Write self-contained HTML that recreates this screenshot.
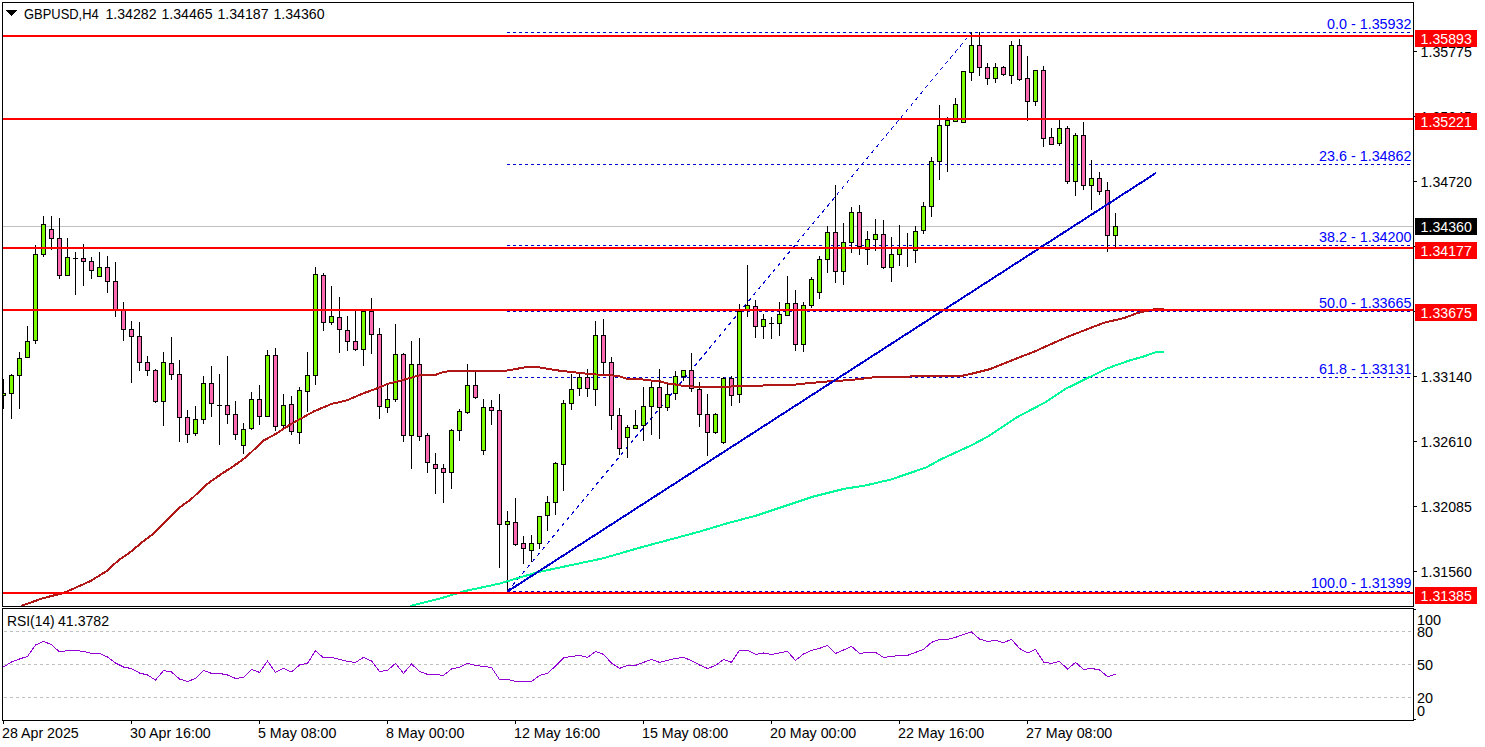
<!DOCTYPE html>
<html><head><meta charset="utf-8"><style>
html,body{margin:0;padding:0;background:#fff;width:1485px;height:747px;overflow:hidden}
svg{display:block}
text{font-family:"Liberation Sans", sans-serif}
</style></head><body>
<svg width="1485" height="747" viewBox="0 0 1485 747" shape-rendering="crispEdges">
<rect x="0" y="0" width="1485" height="747" fill="#fff"/>
<defs><clipPath id="mc"><rect x="3" y="3" width="1410" height="603"/></clipPath><clipPath id="rc"><rect x="3" y="609" width="1410" height="111"/></clipPath></defs>
<g clip-path="url(#mc)">
<rect x="3" y="226" width="1410" height="1" fill="#C0C0C0"/>
<line x1="507" y1="32.5" x2="1413" y2="32.5" stroke="#0000CD" stroke-width="1" stroke-dasharray="3 3" shape-rendering="crispEdges"/>
<line x1="507" y1="164.5" x2="1413" y2="164.5" stroke="#0000CD" stroke-width="1" stroke-dasharray="3 3" shape-rendering="crispEdges"/>
<line x1="507" y1="245.5" x2="1413" y2="245.5" stroke="#0000CD" stroke-width="1" stroke-dasharray="3 3" shape-rendering="crispEdges"/>
<line x1="507" y1="311.5" x2="1413" y2="311.5" stroke="#0000CD" stroke-width="1" stroke-dasharray="3 3" shape-rendering="crispEdges"/>
<line x1="507" y1="377.5" x2="1413" y2="377.5" stroke="#0000CD" stroke-width="1" stroke-dasharray="3 3" shape-rendering="crispEdges"/>
<line x1="507" y1="591.5" x2="1413" y2="591.5" stroke="#0000CD" stroke-width="1" stroke-dasharray="3 3" shape-rendering="crispEdges"/>
<line x1="507.5" y1="591.5" x2="971.5" y2="32.5" stroke="#0000CD" stroke-width="1" stroke-dasharray="3.9 3.8"/>
<rect x="3" y="379" width="1" height="30" fill="#000"/>
<rect x="1" y="393" width="5" height="3" fill="#000"/>
<rect x="2" y="394" width="3" height="1" fill="#7CFC00"/>
<rect x="11" y="374" width="1" height="45" fill="#000"/>
<rect x="9" y="375" width="5" height="19" fill="#000"/>
<rect x="10" y="376" width="3" height="17" fill="#7CFC00"/>
<rect x="19" y="352" width="1" height="57" fill="#000"/>
<rect x="17" y="358" width="5" height="18" fill="#000"/>
<rect x="18" y="359" width="3" height="16" fill="#7CFC00"/>
<rect x="27" y="326" width="1" height="32" fill="#000"/>
<rect x="25" y="341" width="5" height="17" fill="#000"/>
<rect x="26" y="342" width="3" height="15" fill="#7CFC00"/>
<rect x="35" y="245" width="1" height="99" fill="#000"/>
<rect x="33" y="254" width="5" height="87" fill="#000"/>
<rect x="34" y="255" width="3" height="85" fill="#7CFC00"/>
<rect x="43" y="216" width="1" height="41" fill="#000"/>
<rect x="41" y="224" width="5" height="31" fill="#000"/>
<rect x="42" y="225" width="3" height="29" fill="#7CFC00"/>
<rect x="51" y="216" width="1" height="34" fill="#000"/>
<rect x="49" y="229" width="5" height="10" fill="#000"/>
<rect x="50" y="230" width="3" height="8" fill="#FF69B4"/>
<rect x="59" y="218" width="1" height="61" fill="#000"/>
<rect x="57" y="238" width="5" height="38" fill="#000"/>
<rect x="58" y="239" width="3" height="36" fill="#FF69B4"/>
<rect x="67" y="238" width="1" height="38" fill="#000"/>
<rect x="65" y="257" width="5" height="19" fill="#000"/>
<rect x="66" y="258" width="3" height="17" fill="#7CFC00"/>
<rect x="75" y="252" width="1" height="43" fill="#000"/>
<rect x="73" y="258" width="5" height="1" fill="#000"/>
<rect x="83" y="244" width="1" height="42" fill="#000"/>
<rect x="81" y="258" width="5" height="4" fill="#000"/>
<rect x="82" y="259" width="3" height="2" fill="#FF69B4"/>
<rect x="91" y="257" width="1" height="22" fill="#000"/>
<rect x="89" y="261" width="5" height="10" fill="#000"/>
<rect x="90" y="262" width="3" height="8" fill="#FF69B4"/>
<rect x="99" y="252" width="1" height="25" fill="#000"/>
<rect x="97" y="267" width="5" height="10" fill="#000"/>
<rect x="98" y="268" width="3" height="8" fill="#7CFC00"/>
<rect x="107" y="256" width="1" height="37" fill="#000"/>
<rect x="105" y="267" width="5" height="15" fill="#000"/>
<rect x="106" y="268" width="3" height="13" fill="#FF69B4"/>
<rect x="115" y="262" width="1" height="55" fill="#000"/>
<rect x="113" y="281" width="5" height="29" fill="#000"/>
<rect x="114" y="282" width="3" height="27" fill="#FF69B4"/>
<rect x="123" y="302" width="1" height="39" fill="#000"/>
<rect x="121" y="309" width="5" height="21" fill="#000"/>
<rect x="122" y="310" width="3" height="19" fill="#FF69B4"/>
<rect x="131" y="321" width="1" height="62" fill="#000"/>
<rect x="129" y="329" width="5" height="8" fill="#000"/>
<rect x="130" y="330" width="3" height="6" fill="#FF69B4"/>
<rect x="139" y="322" width="1" height="49" fill="#000"/>
<rect x="137" y="336" width="5" height="27" fill="#000"/>
<rect x="138" y="337" width="3" height="25" fill="#FF69B4"/>
<rect x="147" y="356" width="1" height="20" fill="#000"/>
<rect x="145" y="362" width="5" height="9" fill="#000"/>
<rect x="146" y="363" width="3" height="7" fill="#FF69B4"/>
<rect x="155" y="369" width="1" height="34" fill="#000"/>
<rect x="153" y="370" width="5" height="32" fill="#000"/>
<rect x="154" y="371" width="3" height="30" fill="#FF69B4"/>
<rect x="163" y="352" width="1" height="74" fill="#000"/>
<rect x="161" y="362" width="5" height="40" fill="#000"/>
<rect x="162" y="363" width="3" height="38" fill="#7CFC00"/>
<rect x="171" y="337" width="1" height="43" fill="#000"/>
<rect x="169" y="363" width="5" height="12" fill="#000"/>
<rect x="170" y="364" width="3" height="10" fill="#FF69B4"/>
<rect x="179" y="360" width="1" height="82" fill="#000"/>
<rect x="177" y="374" width="5" height="44" fill="#000"/>
<rect x="178" y="375" width="3" height="42" fill="#FF69B4"/>
<rect x="187" y="410" width="1" height="33" fill="#000"/>
<rect x="185" y="417" width="5" height="18" fill="#000"/>
<rect x="186" y="418" width="3" height="16" fill="#FF69B4"/>
<rect x="195" y="406" width="1" height="30" fill="#000"/>
<rect x="193" y="419" width="5" height="15" fill="#000"/>
<rect x="194" y="420" width="3" height="13" fill="#7CFC00"/>
<rect x="203" y="376" width="1" height="48" fill="#000"/>
<rect x="201" y="383" width="5" height="37" fill="#000"/>
<rect x="202" y="384" width="3" height="35" fill="#7CFC00"/>
<rect x="211" y="366" width="1" height="51" fill="#000"/>
<rect x="209" y="383" width="5" height="21" fill="#000"/>
<rect x="210" y="384" width="3" height="19" fill="#FF69B4"/>
<rect x="219" y="374" width="1" height="71" fill="#000"/>
<rect x="217" y="405" width="5" height="1" fill="#000"/>
<rect x="227" y="356" width="1" height="68" fill="#000"/>
<rect x="225" y="405" width="5" height="10" fill="#000"/>
<rect x="226" y="406" width="3" height="8" fill="#FF69B4"/>
<rect x="235" y="401" width="1" height="39" fill="#000"/>
<rect x="233" y="414" width="5" height="21" fill="#000"/>
<rect x="234" y="415" width="3" height="19" fill="#FF69B4"/>
<rect x="243" y="423" width="1" height="31" fill="#000"/>
<rect x="241" y="429" width="5" height="17" fill="#000"/>
<rect x="242" y="430" width="3" height="15" fill="#7CFC00"/>
<rect x="251" y="392" width="1" height="38" fill="#000"/>
<rect x="249" y="399" width="5" height="30" fill="#000"/>
<rect x="250" y="400" width="3" height="28" fill="#7CFC00"/>
<rect x="259" y="385" width="1" height="40" fill="#000"/>
<rect x="257" y="399" width="5" height="18" fill="#000"/>
<rect x="258" y="400" width="3" height="16" fill="#FF69B4"/>
<rect x="267" y="350" width="1" height="67" fill="#000"/>
<rect x="265" y="355" width="5" height="62" fill="#000"/>
<rect x="266" y="356" width="3" height="60" fill="#7CFC00"/>
<rect x="275" y="348" width="1" height="83" fill="#000"/>
<rect x="273" y="355" width="5" height="72" fill="#000"/>
<rect x="274" y="356" width="3" height="70" fill="#FF69B4"/>
<rect x="283" y="394" width="1" height="34" fill="#000"/>
<rect x="281" y="405" width="5" height="21" fill="#000"/>
<rect x="282" y="406" width="3" height="19" fill="#7CFC00"/>
<rect x="291" y="396" width="1" height="39" fill="#000"/>
<rect x="289" y="404" width="5" height="28" fill="#000"/>
<rect x="290" y="405" width="3" height="26" fill="#FF69B4"/>
<rect x="299" y="387" width="1" height="57" fill="#000"/>
<rect x="297" y="390" width="5" height="43" fill="#000"/>
<rect x="298" y="391" width="3" height="41" fill="#7CFC00"/>
<rect x="307" y="352" width="1" height="60" fill="#000"/>
<rect x="305" y="375" width="5" height="17" fill="#000"/>
<rect x="306" y="376" width="3" height="15" fill="#7CFC00"/>
<rect x="315" y="267" width="1" height="118" fill="#000"/>
<rect x="313" y="274" width="5" height="102" fill="#000"/>
<rect x="314" y="275" width="3" height="100" fill="#7CFC00"/>
<rect x="323" y="273" width="1" height="58" fill="#000"/>
<rect x="321" y="275" width="5" height="48" fill="#000"/>
<rect x="322" y="276" width="3" height="46" fill="#FF69B4"/>
<rect x="331" y="286" width="1" height="39" fill="#000"/>
<rect x="329" y="316" width="5" height="7" fill="#000"/>
<rect x="330" y="317" width="3" height="5" fill="#7CFC00"/>
<rect x="339" y="297" width="1" height="56" fill="#000"/>
<rect x="337" y="317" width="5" height="13" fill="#000"/>
<rect x="338" y="318" width="3" height="11" fill="#FF69B4"/>
<rect x="347" y="316" width="1" height="35" fill="#000"/>
<rect x="345" y="330" width="5" height="12" fill="#000"/>
<rect x="346" y="331" width="3" height="10" fill="#FF69B4"/>
<rect x="355" y="311" width="1" height="40" fill="#000"/>
<rect x="353" y="341" width="5" height="9" fill="#000"/>
<rect x="354" y="342" width="3" height="7" fill="#FF69B4"/>
<rect x="363" y="311" width="1" height="55" fill="#000"/>
<rect x="361" y="311" width="5" height="39" fill="#000"/>
<rect x="362" y="312" width="3" height="37" fill="#7CFC00"/>
<rect x="371" y="298" width="1" height="56" fill="#000"/>
<rect x="369" y="311" width="5" height="24" fill="#000"/>
<rect x="370" y="312" width="3" height="22" fill="#FF69B4"/>
<rect x="379" y="328" width="1" height="91" fill="#000"/>
<rect x="377" y="334" width="5" height="73" fill="#000"/>
<rect x="378" y="335" width="3" height="71" fill="#FF69B4"/>
<rect x="387" y="385" width="1" height="28" fill="#000"/>
<rect x="385" y="399" width="5" height="9" fill="#000"/>
<rect x="386" y="400" width="3" height="7" fill="#7CFC00"/>
<rect x="395" y="324" width="1" height="78" fill="#000"/>
<rect x="393" y="354" width="5" height="46" fill="#000"/>
<rect x="394" y="355" width="3" height="44" fill="#7CFC00"/>
<rect x="403" y="353" width="1" height="89" fill="#000"/>
<rect x="401" y="354" width="5" height="82" fill="#000"/>
<rect x="402" y="355" width="3" height="80" fill="#FF69B4"/>
<rect x="411" y="341" width="1" height="128" fill="#000"/>
<rect x="409" y="364" width="5" height="72" fill="#000"/>
<rect x="410" y="365" width="3" height="70" fill="#7CFC00"/>
<rect x="419" y="338" width="1" height="103" fill="#000"/>
<rect x="417" y="364" width="5" height="73" fill="#000"/>
<rect x="418" y="365" width="3" height="71" fill="#FF69B4"/>
<rect x="427" y="433" width="1" height="40" fill="#000"/>
<rect x="425" y="435" width="5" height="28" fill="#000"/>
<rect x="426" y="436" width="3" height="26" fill="#FF69B4"/>
<rect x="435" y="453" width="1" height="41" fill="#000"/>
<rect x="433" y="464" width="5" height="5" fill="#000"/>
<rect x="434" y="465" width="3" height="3" fill="#FF69B4"/>
<rect x="443" y="464" width="1" height="39" fill="#000"/>
<rect x="441" y="468" width="5" height="5" fill="#000"/>
<rect x="442" y="469" width="3" height="3" fill="#FF69B4"/>
<rect x="451" y="429" width="1" height="60" fill="#000"/>
<rect x="449" y="430" width="5" height="43" fill="#000"/>
<rect x="450" y="431" width="3" height="41" fill="#7CFC00"/>
<rect x="459" y="409" width="1" height="32" fill="#000"/>
<rect x="457" y="411" width="5" height="20" fill="#000"/>
<rect x="458" y="412" width="3" height="18" fill="#7CFC00"/>
<rect x="467" y="364" width="1" height="50" fill="#000"/>
<rect x="465" y="385" width="5" height="28" fill="#000"/>
<rect x="466" y="386" width="3" height="26" fill="#7CFC00"/>
<rect x="475" y="371" width="1" height="28" fill="#000"/>
<rect x="473" y="385" width="5" height="13" fill="#000"/>
<rect x="474" y="386" width="3" height="11" fill="#FF69B4"/>
<rect x="483" y="399" width="1" height="56" fill="#000"/>
<rect x="481" y="407" width="5" height="44" fill="#000"/>
<rect x="482" y="408" width="3" height="42" fill="#7CFC00"/>
<rect x="491" y="400" width="1" height="25" fill="#000"/>
<rect x="489" y="407" width="5" height="4" fill="#000"/>
<rect x="490" y="408" width="3" height="2" fill="#FF69B4"/>
<rect x="499" y="394" width="1" height="174" fill="#000"/>
<rect x="497" y="410" width="5" height="115" fill="#000"/>
<rect x="498" y="411" width="3" height="113" fill="#FF69B4"/>
<rect x="507" y="511" width="1" height="81" fill="#000"/>
<rect x="505" y="521" width="5" height="4" fill="#000"/>
<rect x="506" y="522" width="3" height="2" fill="#7CFC00"/>
<rect x="515" y="498" width="1" height="48" fill="#000"/>
<rect x="513" y="522" width="5" height="23" fill="#000"/>
<rect x="514" y="523" width="3" height="21" fill="#FF69B4"/>
<rect x="523" y="536" width="1" height="28" fill="#000"/>
<rect x="521" y="543" width="5" height="6" fill="#000"/>
<rect x="522" y="544" width="3" height="4" fill="#FF69B4"/>
<rect x="531" y="535" width="1" height="27" fill="#000"/>
<rect x="529" y="543" width="5" height="8" fill="#000"/>
<rect x="530" y="544" width="3" height="6" fill="#7CFC00"/>
<rect x="539" y="516" width="1" height="33" fill="#000"/>
<rect x="537" y="516" width="5" height="28" fill="#000"/>
<rect x="538" y="517" width="3" height="26" fill="#7CFC00"/>
<rect x="547" y="496" width="1" height="35" fill="#000"/>
<rect x="545" y="502" width="5" height="14" fill="#000"/>
<rect x="546" y="503" width="3" height="12" fill="#7CFC00"/>
<rect x="555" y="462" width="1" height="53" fill="#000"/>
<rect x="553" y="463" width="5" height="40" fill="#000"/>
<rect x="554" y="464" width="3" height="38" fill="#7CFC00"/>
<rect x="563" y="400" width="1" height="91" fill="#000"/>
<rect x="561" y="403" width="5" height="62" fill="#000"/>
<rect x="562" y="404" width="3" height="60" fill="#7CFC00"/>
<rect x="571" y="374" width="1" height="36" fill="#000"/>
<rect x="569" y="389" width="5" height="15" fill="#000"/>
<rect x="570" y="390" width="3" height="13" fill="#7CFC00"/>
<rect x="579" y="373" width="1" height="23" fill="#000"/>
<rect x="577" y="377" width="5" height="12" fill="#000"/>
<rect x="578" y="378" width="3" height="10" fill="#7CFC00"/>
<rect x="587" y="369" width="1" height="28" fill="#000"/>
<rect x="585" y="377" width="5" height="12" fill="#000"/>
<rect x="586" y="378" width="3" height="10" fill="#FF69B4"/>
<rect x="595" y="321" width="1" height="85" fill="#000"/>
<rect x="593" y="335" width="5" height="55" fill="#000"/>
<rect x="594" y="336" width="3" height="53" fill="#7CFC00"/>
<rect x="603" y="319" width="1" height="55" fill="#000"/>
<rect x="601" y="335" width="5" height="28" fill="#000"/>
<rect x="602" y="336" width="3" height="26" fill="#FF69B4"/>
<rect x="611" y="357" width="1" height="73" fill="#000"/>
<rect x="609" y="362" width="5" height="54" fill="#000"/>
<rect x="610" y="363" width="3" height="52" fill="#FF69B4"/>
<rect x="619" y="408" width="1" height="47" fill="#000"/>
<rect x="617" y="415" width="5" height="34" fill="#000"/>
<rect x="618" y="416" width="3" height="32" fill="#FF69B4"/>
<rect x="627" y="425" width="1" height="33" fill="#000"/>
<rect x="625" y="427" width="5" height="11" fill="#000"/>
<rect x="626" y="428" width="3" height="9" fill="#7CFC00"/>
<rect x="635" y="410" width="1" height="19" fill="#000"/>
<rect x="633" y="425" width="5" height="4" fill="#000"/>
<rect x="634" y="426" width="3" height="2" fill="#7CFC00"/>
<rect x="643" y="387" width="1" height="54" fill="#000"/>
<rect x="641" y="406" width="5" height="20" fill="#000"/>
<rect x="642" y="407" width="3" height="18" fill="#7CFC00"/>
<rect x="651" y="381" width="1" height="54" fill="#000"/>
<rect x="649" y="387" width="5" height="20" fill="#000"/>
<rect x="650" y="388" width="3" height="18" fill="#7CFC00"/>
<rect x="659" y="369" width="1" height="70" fill="#000"/>
<rect x="657" y="387" width="5" height="21" fill="#000"/>
<rect x="658" y="388" width="3" height="19" fill="#FF69B4"/>
<rect x="667" y="384" width="1" height="27" fill="#000"/>
<rect x="665" y="394" width="5" height="14" fill="#000"/>
<rect x="666" y="395" width="3" height="12" fill="#7CFC00"/>
<rect x="675" y="371" width="1" height="29" fill="#000"/>
<rect x="673" y="376" width="5" height="18" fill="#000"/>
<rect x="674" y="377" width="3" height="16" fill="#7CFC00"/>
<rect x="683" y="370" width="1" height="11" fill="#000"/>
<rect x="681" y="370" width="5" height="7" fill="#000"/>
<rect x="682" y="371" width="3" height="5" fill="#7CFC00"/>
<rect x="691" y="353" width="1" height="39" fill="#000"/>
<rect x="689" y="370" width="5" height="19" fill="#000"/>
<rect x="690" y="371" width="3" height="17" fill="#FF69B4"/>
<rect x="699" y="382" width="1" height="45" fill="#000"/>
<rect x="697" y="389" width="5" height="26" fill="#000"/>
<rect x="698" y="390" width="3" height="24" fill="#FF69B4"/>
<rect x="707" y="394" width="1" height="62" fill="#000"/>
<rect x="705" y="414" width="5" height="19" fill="#000"/>
<rect x="706" y="415" width="3" height="17" fill="#FF69B4"/>
<rect x="715" y="413" width="1" height="21" fill="#000"/>
<rect x="713" y="414" width="5" height="19" fill="#000"/>
<rect x="714" y="415" width="3" height="17" fill="#7CFC00"/>
<rect x="723" y="377" width="1" height="67" fill="#000"/>
<rect x="721" y="378" width="5" height="65" fill="#000"/>
<rect x="722" y="379" width="3" height="63" fill="#7CFC00"/>
<rect x="731" y="376" width="1" height="30" fill="#000"/>
<rect x="729" y="378" width="5" height="18" fill="#000"/>
<rect x="730" y="379" width="3" height="16" fill="#FF69B4"/>
<rect x="739" y="304" width="1" height="99" fill="#000"/>
<rect x="737" y="311" width="5" height="84" fill="#000"/>
<rect x="738" y="312" width="3" height="82" fill="#7CFC00"/>
<rect x="747" y="265" width="1" height="52" fill="#000"/>
<rect x="745" y="305" width="5" height="5" fill="#000"/>
<rect x="746" y="306" width="3" height="3" fill="#7CFC00"/>
<rect x="755" y="300" width="1" height="38" fill="#000"/>
<rect x="753" y="306" width="5" height="21" fill="#000"/>
<rect x="754" y="307" width="3" height="19" fill="#FF69B4"/>
<rect x="763" y="314" width="1" height="25" fill="#000"/>
<rect x="761" y="319" width="5" height="8" fill="#000"/>
<rect x="762" y="320" width="3" height="6" fill="#7CFC00"/>
<rect x="771" y="317" width="1" height="22" fill="#000"/>
<rect x="769" y="323" width="5" height="1" fill="#000"/>
<rect x="779" y="302" width="1" height="34" fill="#000"/>
<rect x="777" y="314" width="5" height="10" fill="#000"/>
<rect x="778" y="315" width="3" height="8" fill="#7CFC00"/>
<rect x="787" y="276" width="1" height="40" fill="#000"/>
<rect x="785" y="303" width="5" height="13" fill="#000"/>
<rect x="786" y="304" width="3" height="11" fill="#7CFC00"/>
<rect x="795" y="290" width="1" height="61" fill="#000"/>
<rect x="793" y="303" width="5" height="42" fill="#000"/>
<rect x="794" y="304" width="3" height="40" fill="#FF69B4"/>
<rect x="803" y="302" width="1" height="50" fill="#000"/>
<rect x="801" y="305" width="5" height="40" fill="#000"/>
<rect x="802" y="306" width="3" height="38" fill="#7CFC00"/>
<rect x="811" y="277" width="1" height="31" fill="#000"/>
<rect x="809" y="279" width="5" height="27" fill="#000"/>
<rect x="810" y="280" width="3" height="25" fill="#7CFC00"/>
<rect x="819" y="256" width="1" height="43" fill="#000"/>
<rect x="817" y="259" width="5" height="34" fill="#000"/>
<rect x="818" y="260" width="3" height="32" fill="#7CFC00"/>
<rect x="827" y="226" width="1" height="47" fill="#000"/>
<rect x="825" y="232" width="5" height="28" fill="#000"/>
<rect x="826" y="233" width="3" height="26" fill="#7CFC00"/>
<rect x="835" y="185" width="1" height="98" fill="#000"/>
<rect x="833" y="232" width="5" height="40" fill="#000"/>
<rect x="834" y="233" width="3" height="38" fill="#FF69B4"/>
<rect x="843" y="223" width="1" height="62" fill="#000"/>
<rect x="841" y="242" width="5" height="30" fill="#000"/>
<rect x="842" y="243" width="3" height="28" fill="#7CFC00"/>
<rect x="851" y="207" width="1" height="46" fill="#000"/>
<rect x="849" y="212" width="5" height="31" fill="#000"/>
<rect x="850" y="213" width="3" height="29" fill="#7CFC00"/>
<rect x="859" y="205" width="1" height="50" fill="#000"/>
<rect x="857" y="212" width="5" height="35" fill="#000"/>
<rect x="858" y="213" width="3" height="33" fill="#FF69B4"/>
<rect x="867" y="231" width="1" height="34" fill="#000"/>
<rect x="865" y="239" width="5" height="11" fill="#000"/>
<rect x="866" y="240" width="3" height="9" fill="#7CFC00"/>
<rect x="875" y="219" width="1" height="32" fill="#000"/>
<rect x="873" y="234" width="5" height="6" fill="#000"/>
<rect x="874" y="235" width="3" height="4" fill="#7CFC00"/>
<rect x="883" y="220" width="1" height="49" fill="#000"/>
<rect x="881" y="234" width="5" height="34" fill="#000"/>
<rect x="882" y="235" width="3" height="32" fill="#FF69B4"/>
<rect x="891" y="237" width="1" height="45" fill="#000"/>
<rect x="889" y="254" width="5" height="14" fill="#000"/>
<rect x="890" y="255" width="3" height="12" fill="#7CFC00"/>
<rect x="899" y="225" width="1" height="41" fill="#000"/>
<rect x="897" y="248" width="5" height="7" fill="#000"/>
<rect x="898" y="249" width="3" height="5" fill="#7CFC00"/>
<rect x="907" y="233" width="1" height="34" fill="#000"/>
<rect x="905" y="248" width="5" height="1" fill="#000"/>
<rect x="915" y="226" width="1" height="37" fill="#000"/>
<rect x="913" y="231" width="5" height="20" fill="#000"/>
<rect x="914" y="232" width="3" height="18" fill="#7CFC00"/>
<rect x="923" y="202" width="1" height="32" fill="#000"/>
<rect x="921" y="206" width="5" height="25" fill="#000"/>
<rect x="922" y="207" width="3" height="23" fill="#7CFC00"/>
<rect x="931" y="157" width="1" height="60" fill="#000"/>
<rect x="929" y="161" width="5" height="46" fill="#000"/>
<rect x="930" y="162" width="3" height="44" fill="#7CFC00"/>
<rect x="939" y="105" width="1" height="75" fill="#000"/>
<rect x="937" y="125" width="5" height="37" fill="#000"/>
<rect x="938" y="126" width="3" height="35" fill="#7CFC00"/>
<rect x="947" y="117" width="1" height="55" fill="#000"/>
<rect x="945" y="120" width="5" height="6" fill="#000"/>
<rect x="946" y="121" width="3" height="4" fill="#7CFC00"/>
<rect x="955" y="98" width="1" height="24" fill="#000"/>
<rect x="953" y="104" width="5" height="18" fill="#000"/>
<rect x="954" y="105" width="3" height="16" fill="#7CFC00"/>
<rect x="963" y="71" width="1" height="52" fill="#000"/>
<rect x="961" y="71" width="5" height="52" fill="#000"/>
<rect x="962" y="72" width="3" height="50" fill="#7CFC00"/>
<rect x="971" y="32" width="1" height="49" fill="#000"/>
<rect x="969" y="45" width="5" height="28" fill="#000"/>
<rect x="970" y="46" width="3" height="26" fill="#7CFC00"/>
<rect x="979" y="32" width="1" height="44" fill="#000"/>
<rect x="977" y="45" width="5" height="23" fill="#000"/>
<rect x="978" y="46" width="3" height="21" fill="#FF69B4"/>
<rect x="987" y="63" width="1" height="22" fill="#000"/>
<rect x="985" y="67" width="5" height="12" fill="#000"/>
<rect x="986" y="68" width="3" height="10" fill="#FF69B4"/>
<rect x="995" y="63" width="1" height="20" fill="#000"/>
<rect x="993" y="67" width="5" height="12" fill="#000"/>
<rect x="994" y="68" width="3" height="10" fill="#7CFC00"/>
<rect x="1003" y="66" width="1" height="10" fill="#000"/>
<rect x="1001" y="67" width="5" height="8" fill="#000"/>
<rect x="1002" y="68" width="3" height="6" fill="#FF69B4"/>
<rect x="1011" y="41" width="1" height="43" fill="#000"/>
<rect x="1009" y="45" width="5" height="31" fill="#000"/>
<rect x="1010" y="46" width="3" height="29" fill="#7CFC00"/>
<rect x="1019" y="39" width="1" height="42" fill="#000"/>
<rect x="1017" y="45" width="5" height="35" fill="#000"/>
<rect x="1018" y="46" width="3" height="33" fill="#FF69B4"/>
<rect x="1027" y="56" width="1" height="65" fill="#000"/>
<rect x="1025" y="78" width="5" height="24" fill="#000"/>
<rect x="1026" y="79" width="3" height="22" fill="#FF69B4"/>
<rect x="1035" y="70" width="1" height="36" fill="#000"/>
<rect x="1033" y="70" width="5" height="32" fill="#000"/>
<rect x="1034" y="71" width="3" height="30" fill="#7CFC00"/>
<rect x="1043" y="66" width="1" height="81" fill="#000"/>
<rect x="1041" y="70" width="5" height="69" fill="#000"/>
<rect x="1042" y="71" width="3" height="67" fill="#FF69B4"/>
<rect x="1051" y="128" width="1" height="17" fill="#000"/>
<rect x="1049" y="137" width="5" height="8" fill="#000"/>
<rect x="1050" y="138" width="3" height="6" fill="#FF69B4"/>
<rect x="1059" y="120" width="1" height="26" fill="#000"/>
<rect x="1057" y="128" width="5" height="16" fill="#000"/>
<rect x="1058" y="129" width="3" height="14" fill="#7CFC00"/>
<rect x="1067" y="126" width="1" height="58" fill="#000"/>
<rect x="1065" y="128" width="5" height="54" fill="#000"/>
<rect x="1066" y="129" width="3" height="52" fill="#FF69B4"/>
<rect x="1075" y="133" width="1" height="63" fill="#000"/>
<rect x="1073" y="135" width="5" height="47" fill="#000"/>
<rect x="1074" y="136" width="3" height="45" fill="#7CFC00"/>
<rect x="1083" y="122" width="1" height="68" fill="#000"/>
<rect x="1081" y="135" width="5" height="51" fill="#000"/>
<rect x="1082" y="136" width="3" height="49" fill="#FF69B4"/>
<rect x="1091" y="160" width="1" height="50" fill="#000"/>
<rect x="1089" y="178" width="5" height="8" fill="#000"/>
<rect x="1090" y="179" width="3" height="6" fill="#7CFC00"/>
<rect x="1099" y="172" width="1" height="23" fill="#000"/>
<rect x="1097" y="178" width="5" height="14" fill="#000"/>
<rect x="1098" y="179" width="3" height="12" fill="#FF69B4"/>
<rect x="1107" y="182" width="1" height="70" fill="#000"/>
<rect x="1105" y="190" width="5" height="46" fill="#000"/>
<rect x="1106" y="191" width="3" height="44" fill="#FF69B4"/>
<rect x="1115" y="213" width="1" height="35" fill="#000"/>
<rect x="1113" y="226" width="5" height="10" fill="#000"/>
<rect x="1114" y="227" width="3" height="8" fill="#7CFC00"/>
<polyline points="21.6,605.8 43.3,598.1 63.6,593.0 90.0,581.3 106.9,571.0 118.1,560.6 129.4,552.8 142.5,541.9 151.9,534.8 166.9,520.3 180.0,507.2 191.3,499.1 206.3,484.7 221.3,474.0 232.5,466.9 245.6,457.5 250.0,453.4 263.4,440.7 276.8,433.3 290.2,424.6 299.5,419.3 314.3,411.2 331.7,403.9 346.4,400.5 363.8,393.2 378.5,387.8 387.9,383.8 401.3,380.4 421.4,374.8 435.2,375.0 444.2,371.7 460.0,370.5 507.3,370.5 524.2,367.5 535.2,366.8 540.0,367.5 555.8,370.2 571.5,372.0 587.9,373.8 600.0,374.8 610.1,375.1 618.9,376.2 626.9,378.9 643.1,379.5 651.2,380.5 660.6,381.5 666.0,383.2 675.4,384.5 683.5,386.0 699.7,386.9 729.3,386.9 734.7,385.6 763.0,385.6 765.7,384.6 795.3,384.6 800.0,383.7 811.4,383.3 820.2,381.9 836.4,381.0 851.2,379.9 859.9,379.0 876.1,377.0 923.9,376.3 963.0,375.6 971.0,373.9 990.0,369.1 1003.5,363.7 1016.9,358.3 1034.4,351.6 1047.9,345.5 1065.4,337.8 1084.3,330.3 1104.5,322.6 1124.7,317.9 1136.8,313.2 1148.9,310.5 1156.3,308.9 1163.7,308.9" fill="none" stroke="#B01818" stroke-width="2" stroke-linejoin="round"/>
<polyline points="410.0,606.0 440.0,598.6 463.0,591.5 500.0,583.5 536.4,572.5 602.7,558.4 640.8,547.4 700.0,531.5 728.3,523.0 756.6,515.5 784.9,506.0 813.2,496.6 843.4,489.0 866.0,485.3 890.6,479.6 926.4,467.4 940.0,459.7 972.1,445.0 989.5,435.6 1017.6,416.9 1044.4,402.8 1065.8,388.7 1100.0,372.0 1107.2,368.4 1130.0,360.3 1142.2,357.0 1155.7,352.2 1163.7,351.6" fill="none" stroke="#00FA9A" stroke-width="2" stroke-linejoin="round"/>
<line x1="507.5" y1="591.5" x2="1156" y2="173" stroke="#0000CD" stroke-width="2"/>
<rect x="3" y="35" width="1410" height="2" fill="#FF0000"/>
<rect x="3" y="118" width="1410" height="2" fill="#FF0000"/>
<rect x="3" y="247" width="1410" height="2" fill="#FF0000"/>
<rect x="3" y="309" width="1410" height="2" fill="#FF0000"/>
<rect x="3" y="592" width="1410" height="2" fill="#FF0000"/>
</g>
<g transform="translate(1411.5,29) scale(1.025,1)"><text x="0" y="0" fill="#0000FF" font-size="14" text-anchor="end">0.0 - 1.35932</text></g>
<g transform="translate(1411.5,161) scale(1.025,1)"><text x="0" y="0" fill="#0000FF" font-size="14" text-anchor="end">23.6 - 1.34862</text></g>
<g transform="translate(1411.5,242) scale(1.025,1)"><text x="0" y="0" fill="#0000FF" font-size="14" text-anchor="end">38.2 - 1.34200</text></g>
<g transform="translate(1411.5,308) scale(1.025,1)"><text x="0" y="0" fill="#0000FF" font-size="14" text-anchor="end">50.0 - 1.33665</text></g>
<g transform="translate(1411.5,374) scale(1.025,1)"><text x="0" y="0" fill="#0000FF" font-size="14" text-anchor="end">61.8 - 1.33131</text></g>
<g transform="translate(1411.5,588) scale(1.025,1)"><text x="0" y="0" fill="#0000FF" font-size="14" text-anchor="end">100.0 - 1.31399</text></g>
<path d="M6,10 L17,10 L11.5,16 Z" fill="#000"/>
<g transform="translate(24,19) scale(0.925,1)"><text x="0" y="0" fill="#000" font-size="14" text-anchor="start">GBPUSD,H4</text></g>
<g transform="translate(105.4,19) scale(1.012,1)"><text x="0" y="0" fill="#000" font-size="14" text-anchor="start">1.34282</text></g>
<g transform="translate(161.4,19) scale(1.012,1)"><text x="0" y="0" fill="#000" font-size="14" text-anchor="start">1.34465</text></g>
<g transform="translate(217.4,19) scale(1.012,1)"><text x="0" y="0" fill="#000" font-size="14" text-anchor="start">1.34187</text></g>
<g transform="translate(273.4,19) scale(1.012,1)"><text x="0" y="0" fill="#000" font-size="14" text-anchor="start">1.34360</text></g>
<rect x="2" y="2" width="1412" height="1" fill="#000"/>
<rect x="2" y="2" width="1" height="605" fill="#000"/>
<rect x="1413" y="2" width="1" height="605" fill="#000"/>
<rect x="2" y="606" width="1412" height="1" fill="#000"/>
<rect x="2" y="608" width="1412" height="1" fill="#000"/>
<rect x="2" y="608" width="1" height="113" fill="#000"/>
<rect x="1413" y="608" width="1" height="113" fill="#000"/>
<rect x="2" y="720" width="1412" height="1" fill="#000"/>
<rect x="1414" y="51" width="3" height="1" fill="#000"/>
<g transform="translate(1420.6,57) scale(1.012,1)"><text x="0" y="0" fill="#000" font-size="14" text-anchor="start">1.35775</text></g>
<rect x="1414" y="116" width="3" height="1" fill="#000"/>
<g transform="translate(1420.6,122) scale(1.012,1)"><text x="0" y="0" fill="#000" font-size="14" text-anchor="start">1.35245</text></g>
<rect x="1414" y="181" width="3" height="1" fill="#000"/>
<g transform="translate(1420.6,187) scale(1.012,1)"><text x="0" y="0" fill="#000" font-size="14" text-anchor="start">1.34720</text></g>
<rect x="1414" y="246" width="3" height="1" fill="#000"/>
<g transform="translate(1420.6,252) scale(1.012,1)"><text x="0" y="0" fill="#000" font-size="14" text-anchor="start">1.34190</text></g>
<rect x="1414" y="311" width="3" height="1" fill="#000"/>
<g transform="translate(1420.6,317) scale(1.012,1)"><text x="0" y="0" fill="#000" font-size="14" text-anchor="start">1.33665</text></g>
<rect x="1414" y="376" width="3" height="1" fill="#000"/>
<g transform="translate(1420.6,382) scale(1.012,1)"><text x="0" y="0" fill="#000" font-size="14" text-anchor="start">1.33140</text></g>
<rect x="1414" y="441" width="3" height="1" fill="#000"/>
<g transform="translate(1420.6,447) scale(1.012,1)"><text x="0" y="0" fill="#000" font-size="14" text-anchor="start">1.32610</text></g>
<rect x="1414" y="506" width="3" height="1" fill="#000"/>
<g transform="translate(1420.6,512) scale(1.012,1)"><text x="0" y="0" fill="#000" font-size="14" text-anchor="start">1.32085</text></g>
<rect x="1414" y="571" width="3" height="1" fill="#000"/>
<g transform="translate(1420.6,577) scale(1.012,1)"><text x="0" y="0" fill="#000" font-size="14" text-anchor="start">1.31560</text></g>
<rect x="1415" y="30" width="62" height="17" fill="#FF0000"/>
<g transform="translate(1420.6,44) scale(1.012,1)"><text x="0" y="0" fill="#fff" font-size="14" text-anchor="start">1.35893</text></g>
<rect x="1415" y="113" width="62" height="17" fill="#FF0000"/>
<g transform="translate(1420.6,127) scale(1.012,1)"><text x="0" y="0" fill="#fff" font-size="14" text-anchor="start">1.35221</text></g>
<rect x="1415" y="218" width="62" height="17" fill="#000000"/>
<g transform="translate(1420.6,232) scale(1.012,1)"><text x="0" y="0" fill="#fff" font-size="14" text-anchor="start">1.34360</text></g>
<rect x="1415" y="242" width="62" height="17" fill="#FF0000"/>
<g transform="translate(1420.6,256) scale(1.012,1)"><text x="0" y="0" fill="#fff" font-size="14" text-anchor="start">1.34177</text></g>
<rect x="1415" y="304" width="62" height="17" fill="#FF0000"/>
<g transform="translate(1420.6,318) scale(1.012,1)"><text x="0" y="0" fill="#fff" font-size="14" text-anchor="start">1.33675</text></g>
<rect x="1415" y="587" width="62" height="17" fill="#FF0000"/>
<g transform="translate(1420.6,601) scale(1.012,1)"><text x="0" y="0" fill="#fff" font-size="14" text-anchor="start">1.31385</text></g>
<g clip-path="url(#rc)">
<line x1="4" y1="631.5" x2="1413" y2="631.5" stroke="#C0C0C0" stroke-width="1" stroke-dasharray="3 3" shape-rendering="crispEdges"/>
<line x1="4" y1="664.5" x2="1413" y2="664.5" stroke="#C0C0C0" stroke-width="1" stroke-dasharray="3 3" shape-rendering="crispEdges"/>
<line x1="4" y1="697.5" x2="1413" y2="697.5" stroke="#C0C0C0" stroke-width="1" stroke-dasharray="3 3" shape-rendering="crispEdges"/>
<polyline points="3.5,667.0 11.5,662.0 19.5,659.0 27.5,656.4 35.5,645.0 43.5,641.4 51.5,644.6 59.5,652.0 67.5,650.6 75.5,650.6 83.5,651.4 91.5,653.4 99.5,653.4 107.5,657.0 115.5,663.0 123.5,667.0 131.5,668.6 139.5,673.0 147.5,675.0 155.5,680.0 163.5,670.6 171.5,672.0 179.5,679.0 187.5,681.4 195.5,678.6 203.5,670.4 211.5,673.4 219.5,673.4 227.5,675.0 235.5,678.4 243.5,677.4 251.5,669.4 259.5,672.4 267.5,661.0 275.5,672.4 283.5,668.4 291.5,672.0 299.5,665.0 307.5,663.4 315.5,650.6 323.5,658.0 331.5,657.4 339.5,659.4 347.5,661.4 355.5,662.4 363.5,657.4 371.5,661.0 379.5,671.4 387.5,670.4 395.5,663.4 403.5,673.4 411.5,664.0 419.5,671.4 427.5,674.4 435.5,674.4 443.5,675.4 451.5,669.0 459.5,667.4 467.5,663.4 475.5,665.4 483.5,666.4 491.5,667.4 499.5,679.4 507.5,679.4 515.5,681.4 523.5,681.4 531.5,681.4 539.5,675.4 547.5,673.4 555.5,666.0 563.5,658.0 571.5,656.4 579.5,655.4 587.5,657.4 595.5,651.4 603.5,654.4 611.5,663.0 619.5,668.4 627.5,665.4 635.5,665.4 643.5,662.4 651.5,659.4 659.5,662.4 667.5,660.4 675.5,658.4 683.5,657.4 691.5,660.6 699.5,665.0 707.5,668.4 715.5,665.6 723.5,659.4 731.5,662.4 739.5,650.4 747.5,650.4 755.5,654.4 763.5,653.0 771.5,654.4 779.5,653.0 787.5,651.4 795.5,660.4 803.5,654.0 811.5,650.4 819.5,648.4 827.5,645.4 835.5,653.4 843.5,650.0 851.5,646.4 859.5,653.4 867.5,652.4 875.5,652.4 883.5,657.4 891.5,656.4 899.5,655.4 907.5,655.4 915.5,652.4 923.5,649.4 931.5,642.4 939.5,639.4 947.5,639.4 955.5,637.4 963.5,634.4 971.5,632.0 979.5,639.0 987.5,641.4 995.5,640.4 1003.5,642.6 1011.5,639.4 1019.5,648.4 1027.5,653.0 1035.5,649.4 1043.5,662.0 1051.5,663.4 1059.5,661.4 1067.5,669.0 1075.5,662.4 1083.5,669.4 1091.5,668.4 1099.5,670.0 1107.5,676.6 1115.5,674.4" fill="none" stroke="#9400D3" stroke-width="1" stroke-linejoin="round"/>
</g>
<g transform="translate(7,626) scale(0.99,1)"><text x="0" y="0" fill="#000" font-size="14" text-anchor="start">RSI(14)</text></g>
<g transform="translate(58,626) scale(1.01,1)"><text x="0" y="0" fill="#000" font-size="14" text-anchor="start">41.3782</text></g>
<rect x="1414" y="609" width="2" height="1" fill="#000"/>
<rect x="1414" y="719" width="2" height="1" fill="#000"/>
<g transform="translate(1417,625) scale(1.03,1)"><text x="0" y="0" fill="#000" font-size="14" text-anchor="start">100</text></g>
<g transform="translate(1417,637) scale(1.03,1)"><text x="0" y="0" fill="#000" font-size="14" text-anchor="start">80</text></g>
<g transform="translate(1417,670) scale(1.03,1)"><text x="0" y="0" fill="#000" font-size="14" text-anchor="start">50</text></g>
<g transform="translate(1417,703) scale(1.03,1)"><text x="0" y="0" fill="#000" font-size="14" text-anchor="start">20</text></g>
<g transform="translate(1417,716) scale(1.03,1)"><text x="0" y="0" fill="#000" font-size="14" text-anchor="start">0</text></g>
<rect x="3" y="721" width="1" height="3" fill="#000"/>
<g transform="translate(2,738) scale(1.018,1)"><text x="0" y="0" fill="#000" font-size="14" text-anchor="start">28 Apr 2025</text></g>
<rect x="131" y="721" width="1" height="3" fill="#000"/>
<g transform="translate(130,738) scale(1.018,1)"><text x="0" y="0" fill="#000" font-size="14" text-anchor="start">30 Apr 16:00</text></g>
<rect x="259" y="721" width="1" height="3" fill="#000"/>
<g transform="translate(258,738) scale(1.018,1)"><text x="0" y="0" fill="#000" font-size="14" text-anchor="start">5 May 08:00</text></g>
<rect x="387" y="721" width="1" height="3" fill="#000"/>
<g transform="translate(386,738) scale(1.018,1)"><text x="0" y="0" fill="#000" font-size="14" text-anchor="start">8 May 00:00</text></g>
<rect x="515" y="721" width="1" height="3" fill="#000"/>
<g transform="translate(514,738) scale(1.018,1)"><text x="0" y="0" fill="#000" font-size="14" text-anchor="start">12 May 16:00</text></g>
<rect x="643" y="721" width="1" height="3" fill="#000"/>
<g transform="translate(642,738) scale(1.018,1)"><text x="0" y="0" fill="#000" font-size="14" text-anchor="start">15 May 08:00</text></g>
<rect x="771" y="721" width="1" height="3" fill="#000"/>
<g transform="translate(770,738) scale(1.018,1)"><text x="0" y="0" fill="#000" font-size="14" text-anchor="start">20 May 00:00</text></g>
<rect x="899" y="721" width="1" height="3" fill="#000"/>
<g transform="translate(898,738) scale(1.018,1)"><text x="0" y="0" fill="#000" font-size="14" text-anchor="start">22 May 16:00</text></g>
<rect x="1027" y="721" width="1" height="3" fill="#000"/>
<g transform="translate(1026,738) scale(1.018,1)"><text x="0" y="0" fill="#000" font-size="14" text-anchor="start">27 May 08:00</text></g>
</svg></body></html>
